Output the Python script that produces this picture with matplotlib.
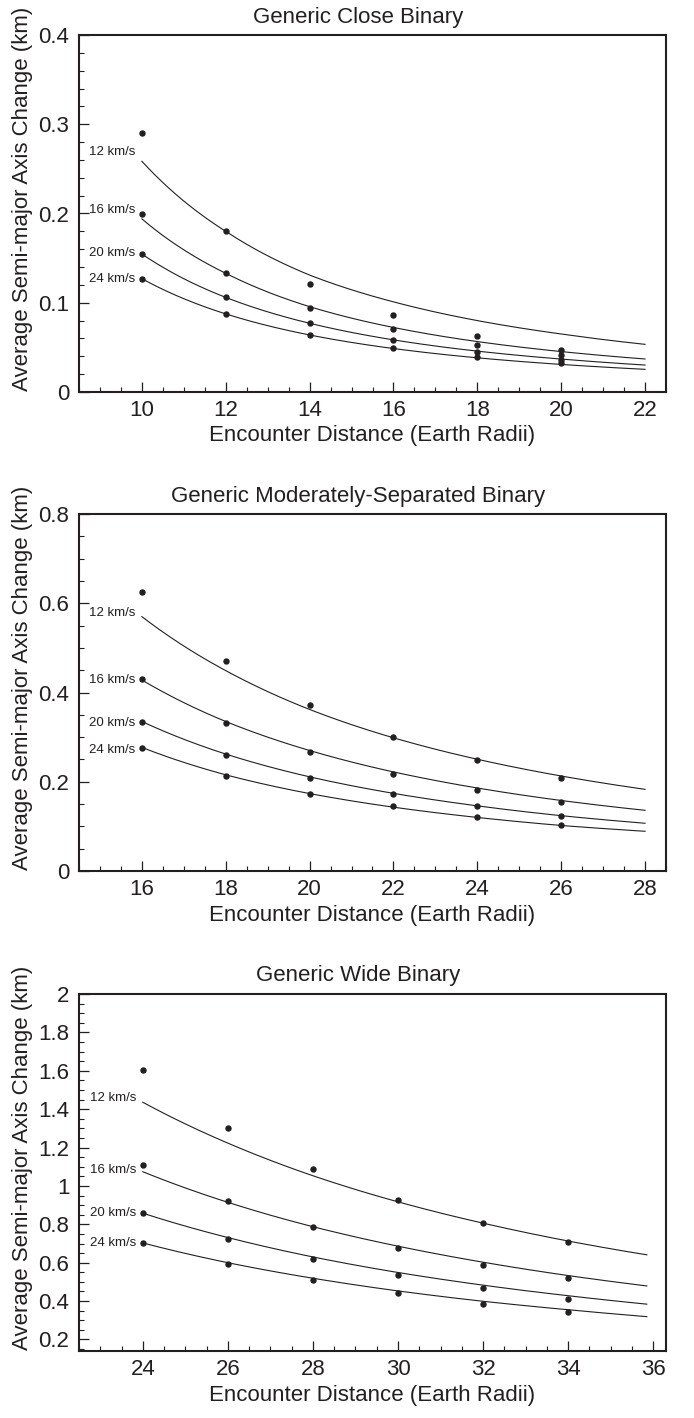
import numpy as np
import matplotlib
matplotlib.use("Agg")
import matplotlib.pyplot as plt
from matplotlib.ticker import MultipleLocator, FuncFormatter

plt.rcParams['font.family'] = ['Liberation Sans', 'DejaVu Sans']

INK = '#231f20'

speeds = ["12 km/s", "16 km/s", "20 km/s", "24 km/s"]

# ---------------- Panel 1: Generic Close Binary ----------------
close_x = [10, 12, 14, 16, 18, 20]
close_12 = [0.290, 0.180, 0.121, 0.086, 0.063, 0.047]
close_16 = [0.200, 0.133, 0.0945, 0.071, 0.053, 0.041]
close_20 = [0.155, 0.106, 0.077, 0.058, 0.045, 0.036]
close_24 = [0.127, 0.087, 0.064, 0.049, 0.039, 0.032]

close_fit_x = [10, 12, 14, 16, 18, 20, 22]
close_fit_12 = [0.2585, 0.180, 0.131, 0.101, 0.080, 0.065, 0.0534]
close_fit_16 = [0.194, 0.133, 0.0956, 0.0723, 0.0565, 0.0453, 0.037]
close_fit_20 = [0.1546, 0.106, 0.077, 0.0584, 0.0458, 0.0369, 0.0302]
close_fit_24 = [0.127, 0.0875, 0.0639, 0.0487, 0.0383, 0.0309, 0.0254]

# ---------------- Panel 2: Moderately-Separated ----------------
mod_x = [16, 18, 20, 22, 24, 26]
mod_12 = [0.626, 0.471, 0.371, 0.300, 0.249, 0.209]
mod_16 = [0.430, 0.332, 0.267, 0.218, 0.182, 0.155]
mod_20 = [0.335, 0.259, 0.208, 0.172, 0.146, 0.124]
mod_24 = [0.275, 0.214, 0.173, 0.145, 0.121, 0.103]

mod_fit_x = [16, 18, 20, 22, 24, 26, 28]
mod_fit_12 = [0.570, 0.449, 0.362, 0.2985, 0.2504, 0.2129, 0.183]
mod_fit_16 = [0.428, 0.335, 0.270, 0.222, 0.186, 0.158, 0.136]
mod_fit_20 = [0.335, 0.262, 0.211, 0.174, 0.146, 0.124, 0.107]
mod_fit_24 = [0.277, 0.2155, 0.1735, 0.143, 0.120, 0.102, 0.089]

# ---------------- Panel 3: Wide Binary ----------------
wide_x = [24, 26, 28, 30, 32, 34]
wide_12 = [1.604, 1.304, 1.089, 0.929, 0.806, 0.707]
wide_16 = [1.109, 0.924, 0.785, 0.677, 0.590, 0.521]
wide_20 = [0.858, 0.722, 0.618, 0.535, 0.469, 0.413]
wide_24 = [0.703, 0.594, 0.509, 0.441, 0.387, 0.342]

wide_fit_x = [24, 26, 28, 30, 32, 34, 35.85]
wide_fit_12 = [1.436, 1.223, 1.053, 0.917, 0.806, 0.713, 0.641]
wide_fit_16 = [1.074, 0.9146, 0.7876, 0.686, 0.6026, 0.533, 0.479]
wide_fit_20 = [0.858, 0.731, 0.630, 0.549, 0.483, 0.428, 0.384]
wide_fit_24 = [0.703, 0.600, 0.519, 0.453, 0.399, 0.355, 0.319]

titles = ["Generic Close Binary",
          "Generic Moderately-Separated Binary",
          "Generic Wide Binary"]
xlabel = "Encounter Distance (Earth Radii)"
ylabel = "Average Semi-major Axis Change (km)"

panels = [
    dict(x=close_x, pts=[close_12, close_16, close_20, close_24],
         fx=close_fit_x, fits=[close_fit_12, close_fit_16, close_fit_20, close_fit_24],
         xlim=(8.5, 22.5), ylim=(0, 0.4), ymaj=0.1, ymin=0.02,
         lab_dy=[9.4, 8.9, 1.0, 0.0]),
    dict(x=mod_x, pts=[mod_12, mod_16, mod_20, mod_24],
         fx=mod_fit_x, fits=[mod_fit_12, mod_fit_16, mod_fit_20, mod_fit_24],
         xlim=(14.5, 28.5), ylim=(0, 0.8), ymaj=0.2, ymin=0.05,
         lab_dy=[3.3, 0.0, -1.5, -2.5]),
    dict(x=wide_x, pts=[wide_12, wide_16, wide_20, wide_24],
         fx=wide_fit_x, fits=[wide_fit_12, wide_fit_16, wide_fit_20, wide_fit_24],
         xlim=(22.5, 36.3), ylim=(0.14, 2.0), ymaj=0.2, ymin=0.05,
         lab_dy=[4.0, 1.7, 0.0, 0.0]),
]

W, H = 694, 1418
fig = plt.figure(figsize=(W / 100, H / 100), dpi=100)

left_px, right_px = 79, 666
tops = [35, 514, 994]
hpx = 357
FS = 16

fmt = FuncFormatter(lambda v, p: ("%g" % round(v, 3)))

for i, (p, top) in enumerate(zip(panels, tops)):
    ax = fig.add_axes([left_px / W, 1 - (top + hpx) / H,
                       (right_px - left_px) / W, hpx / H])
    for ys, fy, lab, dy in zip(p['pts'], p['fits'], speeds, p['lab_dy']):
        ax.plot(p['x'], ys, 'o', ms=3.6, color=INK, mec=INK, zorder=3)
        fx = np.asarray(p['fx'], float)
        fyv = np.asarray(fy, float)
        xs = np.linspace(fx[0], fx[-1], 300)
        ys_s = np.exp(np.interp(np.log(xs), np.log(fx), np.log(fyv)))
        ax.plot(xs, ys_s, '-', lw=0.8, color=INK, zorder=2)
        ax.annotate(lab, xy=(fx[0], fyv[0]), xytext=(-4.5, dy / 1.389),
                    textcoords='offset points', ha='right', va='center',
                    fontsize=9.5, color=INK)
    ax.set_xlim(*p['xlim'])
    ax.set_ylim(*p['ylim'])
    ax.xaxis.set_major_locator(MultipleLocator(2))
    ax.xaxis.set_minor_locator(MultipleLocator(0.5))
    ax.yaxis.set_major_locator(MultipleLocator(p['ymaj']))
    ax.yaxis.set_minor_locator(MultipleLocator(p['ymin']))
    ax.yaxis.set_major_formatter(fmt)
    ax.tick_params(which='both', direction='in', top=False, right=False,
                   color=INK, labelcolor=INK, labelsize=FS)
    ax.tick_params(which='major', length=7.2, width=0.9)
    ax.tick_params(which='minor', length=3.6, width=0.8)
    ax.tick_params(axis='y', which='major', pad=7)
    ax.tick_params(axis='x', which='major', pad=6)
    for s in ax.spines.values():
        s.set_linewidth(1.5)
        s.set_color(INK)
    ax.set_xlabel(xlabel, fontsize=FS, color=INK, labelpad=3)
    ax.set_ylabel(ylabel, fontsize=FS, color=INK)
    ax.yaxis.set_label_coords(-0.078, 0.54)
    ax.set_title(titles[i], fontsize=FS, color=INK, x=0.475, pad=9)

fig.savefig("out.png", dpi=100)
